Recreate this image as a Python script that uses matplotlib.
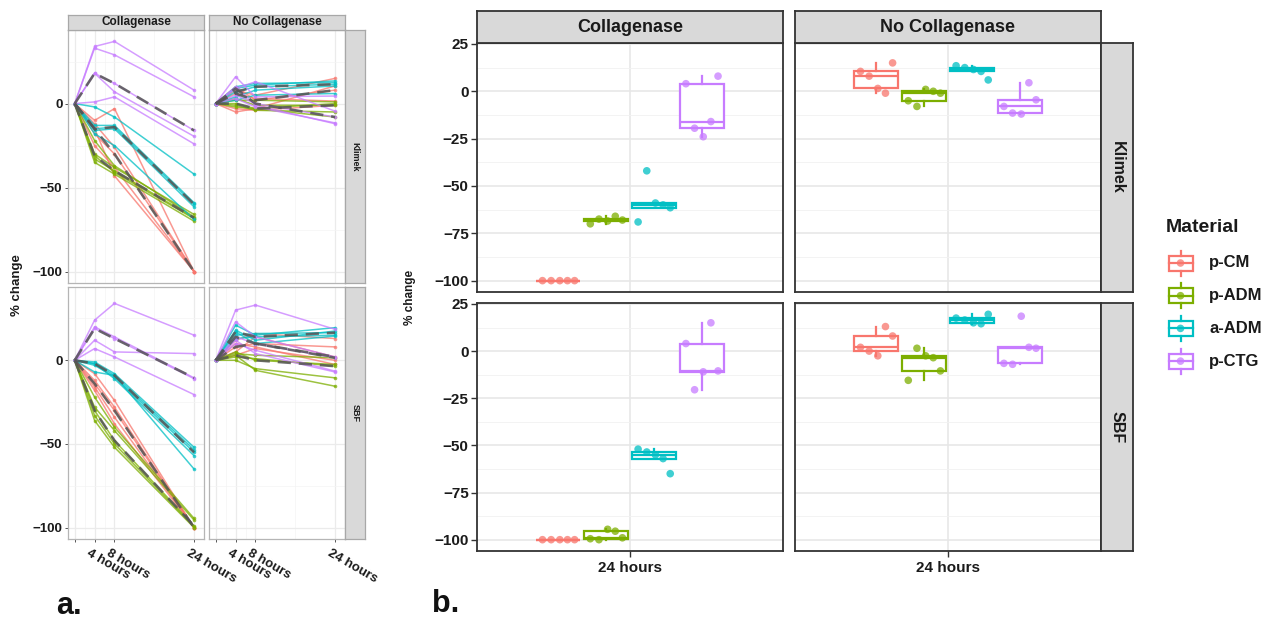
import numpy as np
import matplotlib
matplotlib.use('Agg')
import matplotlib.pyplot as plt
from matplotlib.transforms import ScaledTranslation
from matplotlib.patches import Rectangle

plt.rcParams['font.family'] = ['Liberation Sans', 'DejaVu Sans']
plt.rcParams['font.weight'] = 'bold'

# ---------------- data ----------------
materials = ['p-CM', 'p-ADM', 'a-ADM', 'p-CTG']
material_colors = ['#F8766D', '#7CAE00', '#00BFC4', '#C77CFF']
treatments = ['Collagenase', 'No Collagenase']
media = ['Klimek', 'SBF']
hours = [0, 4, 8, 24]
hour_labels = ['', '4 hours', '8 hours', '24 hours']
box_label = '24 hours'
legend_title = 'Material'

# % change per specimen at 0, 4, 8, 24 hours
klimek_coll_pcm = [[0, -10, -3, -100], [0, -12, -26, -100], [0, -15, -43, -100], [0, -18, -30, -100], [0, -25, -38, -100]]
klimek_coll_padm = [[0, -30, -38, -66], [0, -33, -40, -68], [0, -35, -42, -70], [0, -22, -37, -67.5], [0, -31, -41, -68.5]]
klimek_coll_aadm = [[0, -2, -8, -42], [0, -13, -13, -59], [0, -15, -14, -60], [0, -16, -15, -61.5], [0, -18, -25, -69]]
klimek_coll_pctg = [[0, 34, 37, 8], [0, 33, 29, 4], [0, 18, 7, -19.5], [0, 1, 4, -24], [0, 18, 12, -16]]
klimek_nocoll_pcm = [[0, 8, 5, 15], [0, -5, -3, 10.5], [0, 10, 2, 8], [0, 6, 3, 1.5], [0, -3, -4, -1]]
klimek_nocoll_padm = [[0, 2, 2, 1], [0, -2, -3, 0], [0, 3, -1, -1], [0, -1, -4, -5], [0, 0, -3, -8]]
klimek_nocoll_aadm = [[0, 9, 11, 13.5], [0, 10, 12, 12.5], [0, 7, 10, 11.5], [0, 4, 8, 10.5], [0, 2, 5, 6]]
klimek_nocoll_pctg = [[0, 16, 4, 4.5], [0, 9, 13, -4.5], [0, 5, 0, -8], [0, 3, -2, -11.5], [0, 10, -1, -12]]
sbf_coll_pcm = [[0, -8, -24, -100], [0, -12, -28, -100], [0, -14, -30, -100], [0, -16, -34, -100], [0, -18, -38, -100]]
sbf_coll_padm = [[0, -22, -40, -94.5], [0, -28, -42, -95.5], [0, -30, -48, -99], [0, -33, -50, -99.5], [0, -36, -52, -100]]
sbf_coll_aadm = [[0, -1, -8, -52], [0, -2, -9, -53.5], [0, -3, -10, -55], [0, -2, -11, -57], [0, -7, -9, -65]]
sbf_coll_pctg = [[0, 24, 34, 15], [0, 20, 14, -10.5], [0, 12, 5, 4], [0, 7, 2, -20.5], [0, 19, 13, -11]]
sbf_nocoll_pcm = [[0, 12, 16, 13], [0, 8, 10, 8], [0, 5, 14, 2], [0, 3, 7, 0], [0, 10, 8, -2.5]]
sbf_nocoll_padm = [[0, 4, 3, 1.5], [0, 5, 0, -2.5], [0, 2, 1, -3.5], [0, 0, -5, -10.5], [0, 3, -6, -15.5]]
sbf_nocoll_aadm = [[0, 21, 15, 19.5], [0, 18, 12, 17.5], [0, 15, 16, 16.5], [0, 13, 14, 15], [0, 17, 10, 14.5]]
sbf_nocoll_pctg = [[0, 30, 33, 18.5], [0, 23, 14, 2], [0, 14, 10, 1.5], [0, 10, 6, -6.5], [0, 12, 4, -7]]

data = {
    ('Klimek', 'Collagenase'): [klimek_coll_pcm, klimek_coll_padm, klimek_coll_aadm, klimek_coll_pctg],
    ('Klimek', 'No Collagenase'): [klimek_nocoll_pcm, klimek_nocoll_padm, klimek_nocoll_aadm, klimek_nocoll_pctg],
    ('SBF', 'Collagenase'): [sbf_coll_pcm, sbf_coll_padm, sbf_coll_aadm, sbf_coll_pctg],
    ('SBF', 'No Collagenase'): [sbf_nocoll_pcm, sbf_nocoll_padm, sbf_nocoll_aadm, sbf_nocoll_pctg],
}

# ---------------- figure ----------------
W, H = 1268, 619
fig = plt.figure(figsize=(W / 100, H / 100), dpi=100)
fig.patch.set_facecolor('white')


def ax_px(x0, y0, x1, y1):
    return fig.add_axes([x0 / W, 1 - y1 / H, (x1 - x0) / W, (y1 - y0) / H])


def strip(x0, y0, x1, y1, text, rot=0, fs=13, ec='#333333', lw=1.3):
    a = ax_px(x0, y0, x1, y1)
    a.set_facecolor('#D9D9D9')
    a.set_xticks([])
    a.set_yticks([])
    for s in a.spines.values():
        s.set_color(ec)
        s.set_linewidth(lw)
    a.text(0.5, 0.5, text, rotation=rot, ha='center', va='center',
           transform=a.transAxes, fontsize=fs, fontweight='bold', color='#1A1A1A')
    return a


# ---------------- panel a ----------------
a_cols = [(68, 204), (209, 345)]
a_rows = [(30, 283), (287, 539)]
for r, med in enumerate(media):
    for c, trt in enumerate(treatments):
        x0, x1 = a_cols[c]
        y0, y1 = a_rows[r]
        ax = ax_px(x0, y0, x1, y1)
        ax.set_facecolor('white')
        ax.set_xlim(-1.35, 26.0)
        ax.set_ylim(-106.8, 43.8)
        ax.set_xticks(hours)
        ax.set_xticks([2, 6, 16], minor=True)
        ax.set_yticks([-100, -50, 0])
        ax.set_yticks([-75, -25, 25], minor=True)
        ax.grid(which='major', color='#EBEBEB', lw=0.9)
        ax.grid(which='minor', color='#F4F4F4', lw=0.5)
        ax.set_axisbelow(True)
        for s in ax.spines.values():
            s.set_color('#B5B5B5')
            s.set_linewidth(0.9)
        ax.tick_params(which='minor', length=0)
        ax.tick_params(which='major', length=2.5, color='#555555', width=0.7)
        groups = data[(med, trt)]
        for k, grp in enumerate(groups):
            for spec in grp:
                ax.plot(hours, spec, color=material_colors[k], lw=1.1, alpha=0.75,
                        marker='o', ms=2.6, mew=0, zorder=2)
        for k, grp in enumerate(groups):
            med_line = np.median(np.array(grp, dtype=float), axis=0)
            ax.plot(hours, med_line, color='#555555', lw=1.9, alpha=0.85,
                    ls=(0, (5, 3)), zorder=3)
        if c == 0:
            ax.tick_params(axis='y', labelsize=9.5, labelcolor='#1A1A1A', pad=1.5)
        else:
            ax.tick_params(axis='y', left=False, labelleft=False)
        if r == len(media) - 1:
            ax.set_xticklabels(hour_labels, rotation=-30, ha='left', va='top',
                               rotation_mode='anchor', fontsize=9.5, color='#1A1A1A')
            off = ScaledTranslation(-4 / 100, 0, fig.dpi_scale_trans)
            for lab in ax.get_xticklabels():
                lab.set_transform(lab.get_transform() + off)
        else:
            ax.tick_params(axis='x', bottom=False, labelbottom=False)
        if r == 0:
            strip(x0, 15, x1, y0, trt, fs=8.5, ec='#A8A8A8', lw=0.9)
        if c == len(treatments) - 1:
            strip(x1, y0, x1 + 20, y1, med, rot=-90, fs=6.5, ec='#A8A8A8', lw=0.9)

fig.text(17 / W, 1 - 285 / H, '% change', rotation=90, ha='center', va='center',
         fontsize=9.5, fontweight='bold', color='#1A1A1A')

# ---------------- panel b ----------------
b_cols = [(477, 783), (795, 1101)]
b_rows = [(43, 292), (303, 551)]
offsets = [-0.28125, -0.09375, 0.09375, 0.28125]
jit = np.array([-0.062, -0.028, 0.006, 0.036, 0.064])
for r, med in enumerate(media):
    for c, trt in enumerate(treatments):
        x0, x1 = b_cols[c]
        y0, y1 = b_rows[r]
        ax = ax_px(x0, y0, x1, y1)
        ax.set_facecolor('white')
        ax.set_xlim(-0.6, 0.6)
        ax.set_ylim(-106.0, 25.5)
        ax.set_yticks([25, 0, -25, -50, -75, -100])
        ax.set_yticks([12.5, -12.5, -37.5, -62.5, -87.5], minor=True)
        ax.set_xticks([0])
        ax.grid(which='major', color='#E6E6E6', lw=1.1)
        ax.grid(which='minor', axis='y', color='#F1F1F1', lw=0.6)
        ax.set_axisbelow(True)
        for s in ax.spines.values():
            s.set_color('#333333')
            s.set_linewidth(1.3)
        ax.tick_params(which='minor', length=0)
        ax.tick_params(which='major', length=4, color='#333333', width=1.0)
        groups = data[(med, trt)]
        for k, grp in enumerate(groups):
            col = material_colors[k]
            vals = np.array([spec[-1] for spec in grp], dtype=float)
            ax.boxplot([vals], positions=[offsets[k]], widths=0.172, showfliers=False,
                       showcaps=False, patch_artist=True, manage_ticks=False,
                       boxprops=dict(facecolor='white', edgecolor=col, lw=1.6),
                       medianprops=dict(color=col, lw=1.6),
                       whiskerprops=dict(color=col, lw=1.6), zorder=2)
            ax.scatter(offsets[k] + np.roll(jit, 2 * k + r + c), vals, s=30, color=col,
                       alpha=0.75, edgecolors='none', zorder=3)
        if c == 0:
            ax.tick_params(axis='y', labelsize=11, labelcolor='#1A1A1A', pad=2)
        else:
            ax.tick_params(axis='y', left=False, labelleft=False)
        if r == len(media) - 1:
            ax.set_xticklabels([box_label], fontsize=11, color='#1A1A1A')
            ax.tick_params(axis='x', pad=3)
        else:
            ax.tick_params(axis='x', bottom=False, labelbottom=False)
        if r == 0:
            strip(x0, 11, x1, y0, trt, fs=13)
        if c == len(treatments) - 1:
            strip(x1, y0, x1 + 32, y1, med, rot=-90, fs=11.5)

fig.text(410 / W, 1 - 297 / H, '% change', rotation=90, ha='center', va='center',
         fontsize=8.5, fontweight='bold', color='#1A1A1A')

# ---------------- legend & panel labels (overlay) ----------------
ov = fig.add_axes([0, 0, 1, 1])
ov.set_xlim(0, W)
ov.set_ylim(H, 0)
ov.axis('off')
ov.patch.set_alpha(0)
ov.text(1166, 228, legend_title, fontsize=14, fontweight='bold', va='center', ha='left',
        color='#1A1A1A')
for k, (mat, col) in enumerate(zip(materials, material_colors)):
    yc = 263 + k * 32.7
    ov.add_patch(Rectangle((1168.5, yc - 7.5), 24, 15, facecolor='white', edgecolor=col, lw=1.6))
    ov.plot([1180.5, 1180.5], [yc - 12.5, yc - 7.5], color=col, lw=1.6)
    ov.plot([1180.5, 1180.5], [yc + 7.5, yc + 12.5], color=col, lw=1.6)
    ov.plot([1168.5, 1192.5], [yc, yc], color=col, lw=1.6)
    ov.scatter([1180.5], [yc], s=30, color=col, alpha=0.75, edgecolors='none')
    ov.text(1209, yc, mat, fontsize=12, fontweight='bold', va='center', ha='left', color='#1A1A1A')

ov.text(56, 606, 'a.', fontsize=22, fontweight='bold', va='center', ha='left', color='#111111')
ov.text(432, 604, 'b.', fontsize=22, fontweight='bold', va='center', ha='left', color='#111111')

fig.savefig('out.png', dpi=100, facecolor='white')
